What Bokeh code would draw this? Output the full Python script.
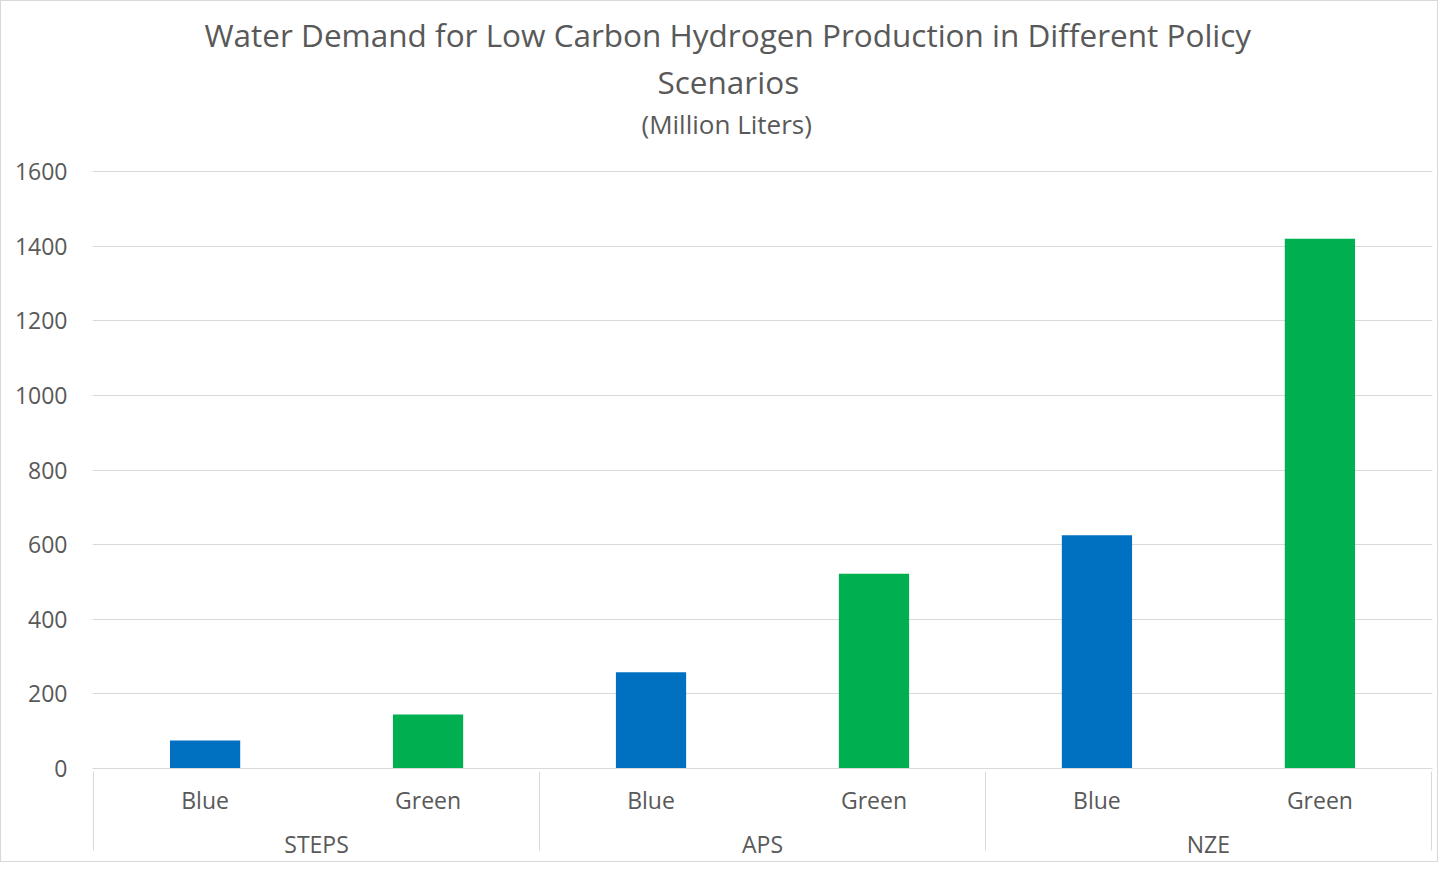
from bokeh.plotting import figure
from bokeh.models import FactorRange, Range1d, FixedTicker, Title, ColumnDataSource
from bokeh.embed import file_html
from bokeh.resources import INLINE

# ---- data ----
scenarios = ["STEPS", "APS", "NZE"]
h2_types = ["Blue", "Green"]
blue_values = [75, 258, 625]
green_values = [145, 522, 1420]
y_ticks = [0, 200, 400, 600, 800, 1000, 1200, 1400, 1600]
type_colors = {"Blue": "#0070C0", "Green": "#00B050"}

title_line1 = "Water Demand for Low Carbon Hydrogen Production in Different Policy"
title_line2 = "Scenarios"
subtitle = "(Million Liters)"

FONT = "Open Sans"
TXT = "#595959"
GRID = "#D9D9D9"

factors = []
tops = []
colors = []
for s, b, g in zip(scenarios, blue_values, green_values):
    for t, v in zip(h2_types, [b, g]):
        factors.append((s, t))
        tops.append(v)
        colors.append(type_colors[t])

source = ColumnDataSource(dict(x=factors, top=tops, color=colors))

# empty edge groups (kept just outside the visible range) so the axis draws
# separator lines at both outer edges of the category band
edge_factors = [(" ", " ")] + factors + [("  ", " ")]

W, H = 1438, 862
p = figure(
    width=W, height=H,
    x_range=FactorRange(*edge_factors, factor_padding=0, group_padding=0,
                        range_padding=-0.995, range_padding_units="absolute"),
    y_range=Range1d(0, 1603),
    output_backend="svg", toolbar_location=None,
    min_border_left=91, min_border_right=7, min_border_top=169, min_border_bottom=95,
)
p.styles = {"border": "1px solid #D9D9D9"}
p.outline_line_color = None
p.background_fill_color = "white"
p.border_fill_color = "white"

p.vbar(x="x", top="top", width=0.315, color="color", source=source, line_color=None)

# titles (first added is closest to the frame)
p.add_layout(Title(text=" ", align="center", text_font=FONT, text_font_size="19px",
                   standoff=0), "above")
p.add_layout(Title(text=subtitle, align="left", offset=549, text_font=FONT, text_font_size="26px",
                   text_font_style="normal", text_color=TXT, standoff=1), "above")
p.add_layout(Title(text=title_line2, align="left", offset=565, text_font=FONT, text_font_size="31.5px",
                   text_font_style="normal", text_color=TXT, standoff=1), "above")
p.add_layout(Title(text=title_line1, align="left", offset=112, text_font=FONT, text_font_size="31.5px",
                   text_font_style="normal", text_color=TXT, standoff=3), "above")

# y axis
p.yaxis.ticker = FixedTicker(ticks=y_ticks)
p.yaxis.axis_line_color = None
p.yaxis.major_tick_line_color = None
p.yaxis.minor_tick_line_color = None
p.yaxis.major_label_text_font = FONT
p.yaxis.major_label_text_font_size = "23px"
p.yaxis.major_label_text_color = TXT
p.yaxis.major_label_standoff = 19
p.ygrid.grid_line_color = GRID
p.xgrid.grid_line_color = None

# x axis
xa = p.xaxis[0]
xa.axis_line_color = GRID
xa.major_tick_line_color = None
xa.minor_tick_line_color = None
xa.major_label_text_font = FONT
xa.major_label_text_font_size = "23px"
xa.major_label_text_color = TXT
xa.major_label_standoff = 9
xa.group_text_font = FONT
xa.group_text_font_size = "23px"
xa.group_text_color = TXT
xa.group_text_font_style = "normal"
xa.separator_line_color = GRID
xa.separator_line_width = 1

open("out.html", "w").write(file_html(p, INLINE))
